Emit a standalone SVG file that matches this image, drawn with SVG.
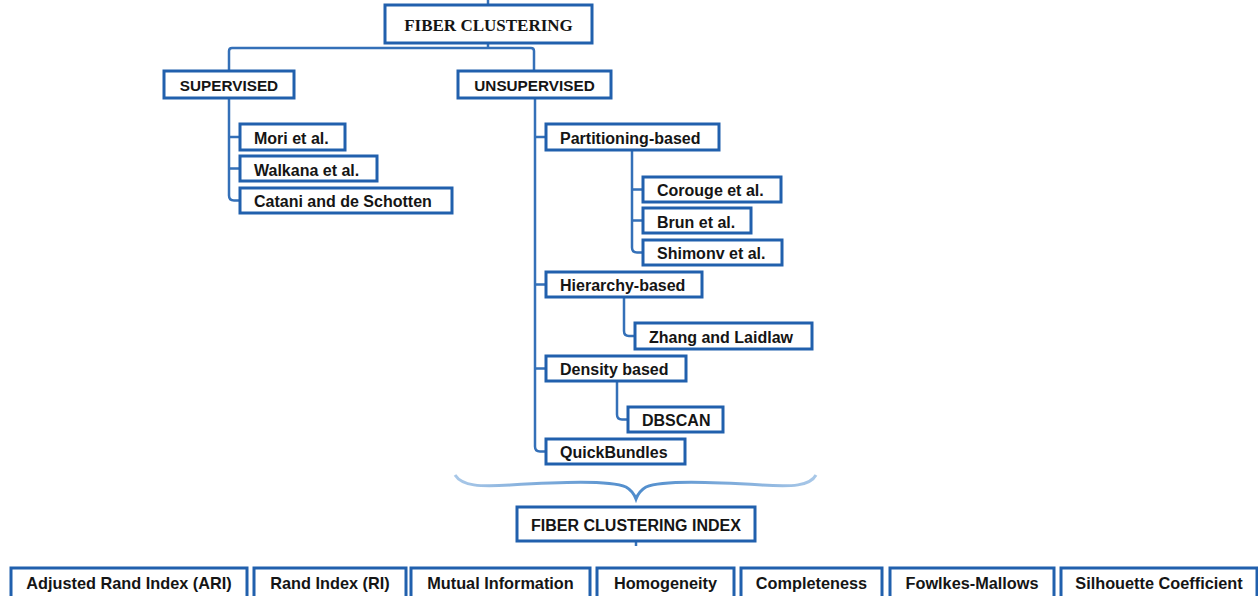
<svg xmlns="http://www.w3.org/2000/svg" width="1258" height="596" viewBox="0 0 1258 596">
<style>
.box{fill:#ffffff;stroke:#2160ad;stroke-width:3}
.t{font-family:"Liberation Sans",Arial,sans-serif;font-weight:bold;font-size:16px;fill:#151515}
.b{font-size:16.3px}
.h{font-family:"Liberation Sans",Arial,sans-serif;font-weight:bold;font-size:15.3px;fill:#151515;text-anchor:middle}
.m{text-anchor:middle}
.ttl{font-family:"Liberation Serif","Times New Roman",serif;font-weight:bold;font-size:17px;fill:#151515;text-anchor:middle}
.c{fill:none;stroke:#3470b8;stroke-width:2.5;stroke-linejoin:round}
</style>
<defs>
<linearGradient id="bg" x1="0" y1="0" x2="1" y2="0">
<stop offset="0" stop-color="#a9c8e8"/>
<stop offset="0.5" stop-color="#4f8ccc"/>
<stop offset="1" stop-color="#a9c8e8"/>
</linearGradient>
</defs>
<rect width="1258" height="596" fill="#ffffff"/>
<g id="connectors">
<path class="c" d="M488,0 V5"/>
<path class="c" d="M488,43 V48"/>
<path class="c" d="M229,71 V51 Q229,48 232,48 H531 Q534,48 534,51 V71"/>
<path class="c" d="M229,99 V195.5 Q229,200.5 234,200.5 H240 M229,137 H240 M229,168.5 H240"/>
<path class="c" d="M535,99 V446.5 Q535,451.5 540,451.5 H546 M535,137 H546 M535,284.5 H546 M535,368.5 H546"/>
<path class="c" d="M632,151 V247.5 Q632,252.5 637,252.5 H643 M632,189.5 H643 M632,220.5 H643"/>
<path class="c" d="M624,298 V331 Q624,336 629,336 H635"/>
<path class="c" d="M617,382 V414.5 Q617,419.5 622,419.5 H628"/>
<path d="M455,475 C462,486 480,487 510,485 C560,482 610,480 626,487 Q633,491 636,499 Q639,491 646,487 C662,480 712,482 762,485 C792,487 810,486 816,475" fill="none" stroke="url(#bg)" stroke-width="3"/>
<path class="c" d="M636,541 V546"/>
</g>
<g id="fiber-clustering">
<rect class="box" x="385" y="5" width="207" height="38"/>
<text class="ttl" x="488.5" y="31">FIBER CLUSTERING</text>
</g>
<g id="supervised">
<rect class="box" x="164" y="71" width="130" height="27"/>
<text class="h" x="229" y="90.5">SUPERVISED</text>
</g>
<g id="unsupervised">
<rect class="box" x="458" y="71" width="153" height="27"/>
<text class="h" x="534.5" y="90.5">UNSUPERVISED</text>
</g>
<g id="mori">
<rect class="box" x="240" y="124" width="105" height="26"/>
<text class="t" x="254" y="143.5">Mori et al.</text>
</g>
<g id="walkana">
<rect class="box" x="240" y="156" width="137" height="25"/>
<text class="t" x="254" y="175.5">Walkana et al.</text>
</g>
<g id="catani">
<rect class="box" x="240" y="188" width="212" height="25"/>
<text class="t" x="254" y="206.5">Catani and de Schotten</text>
</g>
<g id="partitioning">
<rect class="box" x="546" y="124" width="173" height="26"/>
<text class="t" x="560" y="143.5">Partitioning-based</text>
</g>
<g id="corouge">
<rect class="box" x="643" y="177" width="138" height="25"/>
<text class="t" x="657" y="196">Corouge et al.</text>
</g>
<g id="brun">
<rect class="box" x="643" y="208" width="108" height="25"/>
<text class="t" x="657" y="227.5">Brun et al.</text>
</g>
<g id="shimonv">
<rect class="box" x="643" y="240" width="139" height="25"/>
<text class="t" x="657" y="259">Shimonv et al.</text>
</g>
<g id="hierarchy">
<rect class="box" x="546" y="272" width="156" height="25"/>
<text class="t" x="560" y="290.5">Hierarchy-based</text>
</g>
<g id="zhang">
<rect class="box" x="635" y="323" width="177" height="26"/>
<text class="t" x="649" y="342.5">Zhang and Laidlaw</text>
</g>
<g id="density">
<rect class="box" x="546" y="356" width="140" height="25"/>
<text class="t" x="560" y="374.5">Density based</text>
</g>
<g id="dbscan">
<rect class="box" x="628" y="407" width="95" height="25"/>
<text class="t" x="642" y="426">DBSCAN</text>
</g>
<g id="quickbundles">
<rect class="box" x="546" y="439" width="139" height="25"/>
<text class="t" x="560" y="457.5">QuickBundles</text>
</g>
<g id="fiber-clustering-index">
<rect class="box" x="517" y="507" width="238" height="34"/>
<text class="t m" x="636" y="530.5">FIBER CLUSTERING INDEX</text>
</g>
<g id="ari">
<rect class="box" x="11" y="568" width="236" height="33"/>
<text class="t b m" x="129" y="589">Adjusted Rand Index (ARI)</text>
</g>
<g id="ri">
<rect class="box" x="254" y="568" width="152" height="33"/>
<text class="t b m" x="330" y="589">Rand Index (RI)</text>
</g>
<g id="mi">
<rect class="box" x="411" y="568" width="179" height="33"/>
<text class="t b m" x="500.5" y="589">Mutual Information</text>
</g>
<g id="homogeneity">
<rect class="box" x="597" y="568" width="137" height="33"/>
<text class="t b m" x="665.5" y="589">Homogeneity</text>
</g>
<g id="completeness">
<rect class="box" x="741" y="568" width="141" height="33"/>
<text class="t b m" x="811.5" y="589">Completeness</text>
</g>
<g id="fowlkes">
<rect class="box" x="890" y="568" width="164" height="33"/>
<text class="t b m" x="972" y="589">Fowlkes-Mallows</text>
</g>
<g id="silhouette">
<rect class="box" x="1061" y="568" width="196" height="33"/>
<text class="t b m" x="1159" y="589">Silhouette Coefficient</text>
</g>
</svg>
